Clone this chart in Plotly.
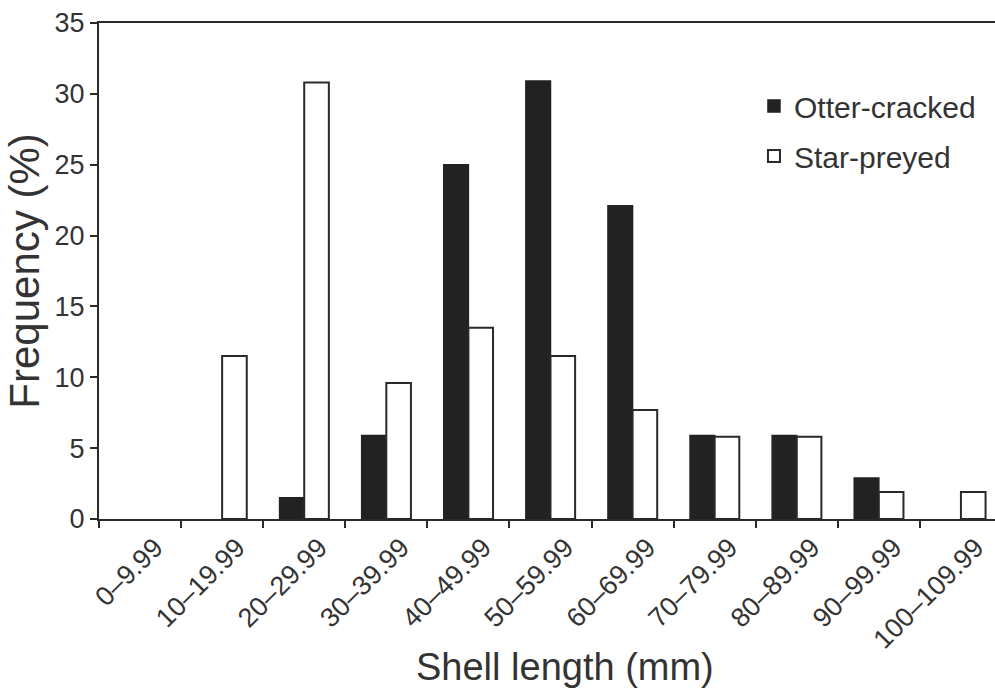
import plotly.graph_objects as go

# Shell length classes (mm)
length_classes = ["0–9.99", "10–19.99", "20–29.99", "30–39.99", "40–49.99",
                  "50–59.99", "60–69.99", "70–79.99", "80–89.99", "90–99.99",
                  "100–109.99"]

# Frequency (%) of shells in each class
otter_cracked = [0, 0, 1.5, 5.9, 25.0, 30.9, 22.1, 5.9, 5.9, 2.9, 0]
star_preyed = [0, 11.5, 30.8, 9.6, 13.5, 11.5, 7.7, 5.8, 5.8, 1.9, 1.9]

y_ticks = [0, 5, 10, 15, 20, 25, 30, 35]

INK = "#2a2a2a"
TEXT = "#333333"
FONT = "Liberation Sans, Arial, Helvetica, sans-serif"


def drawn(values):
    # empty classes are left blank instead of drawing a flat outline on the baseline
    return [v if v > 0 else None for v in values]


fig = go.Figure()
fig.add_trace(go.Bar(
    x=length_classes, y=drawn(otter_cracked), name="Otter-cracked", legendgroup="otter",
    marker=dict(color="#222222", line=dict(color="#222222", width=1.5)),
))
fig.add_trace(go.Bar(
    x=length_classes, y=drawn(star_preyed), name="Star-preyed", legendgroup="star",
    marker=dict(color="white", line=dict(color=INK, width=2)),
))

fig.update_layout(
    width=995, height=694,
    margin=dict(l=99, r=0, t=23, b=175),
    paper_bgcolor="white", plot_bgcolor="white",
    barmode="group", bargap=0.4, bargroupgap=0,
    font=dict(family=FONT, color=TEXT, size=24),
    showlegend=True,
    legend=dict(
        x=0.731, y=0.885, xanchor="left", yanchor="top",
        font=dict(size=30, color=TEXT), bgcolor="rgba(0,0,0,0)",
        tracegroupgap=8, traceorder="grouped",
    ),
    annotations=[dict(
        text="Shell length (mm)", xref="paper", yref="paper",
        x=0.520, y=-0.298, xanchor="center", yanchor="middle",
        showarrow=False, font=dict(size=38, color=TEXT),
    )],
)

fig.update_xaxes(
    type="category", range=[-0.5, 10.415],
    showline=True, linecolor=INK, linewidth=2, mirror=True,
    ticks="outside", tickson="boundaries", ticklen=7, tickwidth=1.5,
    tickcolor=INK, tickangle=-45, tickfont=dict(size=27, color=TEXT),
    ticklabelshift=15,
    showgrid=False, zeroline=False,
)
fig.update_yaxes(
    range=[0, 35], tickvals=y_ticks,
    showline=True, linecolor=INK, linewidth=2, mirror=False,
    ticks="outside", ticklen=7, tickwidth=1.5, tickcolor=INK,
    tickfont=dict(size=27, color=TEXT),
    showgrid=False, zeroline=False,
    title=dict(text="Frequency (%)", font=dict(size=42, color=TEXT), standoff=2),
)

fig.write_html("out.html")
